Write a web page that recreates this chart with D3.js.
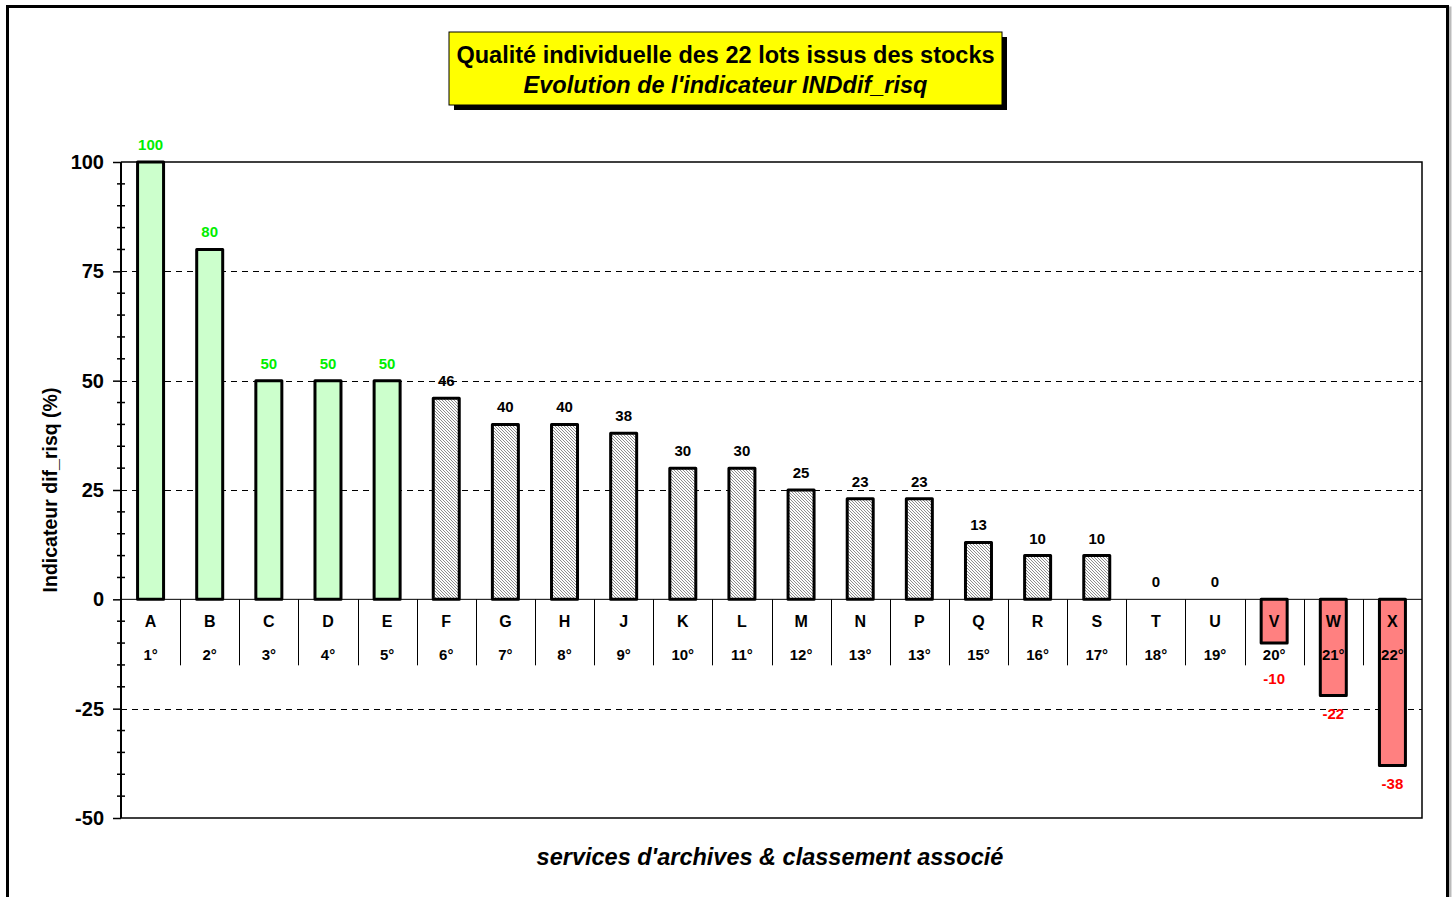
<!DOCTYPE html>
<html>
<head>
<meta charset="utf-8">
<script src="https://cdn.jsdelivr.net/npm/d3@7"></script>
<style>
  html, body { margin: 0; padding: 0; background: #fff; }
  svg { display: block; font-family: Arial, "Liberation Sans", sans-serif; }
</style>
</head>
<body>
<svg id="chart" width="1456" height="897"></svg>
<script>
// Lots, their rank and the INDdif_risq indicator (%)
const lots = ["A","B","C","D","E","F","G","H","J","K","L","M","N","P","Q","R","S","T","U","V","W","X"];
const ranks = ["1°","2°","3°","4°","5°","6°","7°","8°","9°","10°","11°","12°","13°","13°","15°","16°","17°","18°","19°","20°","21°","22°"];
const values = [100,80,50,50,50,46,40,40,38,30,30,25,23,23,13,10,10,0,0,-10,-22,-38];
// quality group of each lot: good / average / poor
const groups = ["good","good","good","good","good","mid","mid","mid","mid","mid","mid","mid","mid","mid","mid","mid","mid","mid","mid","bad","bad","bad"];
const yTicks = [-50,-25,0,25,50,75,100];
const gridValues = [-25,25,50,75];

const titleLine1 = "Qualité individuelle des 22 lots issus des stocks";
const titleLine2 = "Evolution de l'indicateur INDdif_risq";
const yTitle = "Indicateur dif_risq (%)";
const xTitle = "services d'archives & classement associé";

const svg = d3.select("#chart");
const plot = { left: 121, right: 1422, top: 162, bottom: 818 };

// Styles per quality group
const fills = { good: "#ccffcc", mid: "url(#hatch)", bad: "#ff8080" };
const labelColors = { good: "#00ee00", mid: "#000", bad: "#ff0000" };
const num = d => String(d);   // plain hyphen for negatives

// fine diagonal stipple for the middle group
const defs = svg.append("defs");
const pat = defs.append("pattern")
  .attr("id", "hatch").attr("patternUnits", "userSpaceOnUse")
  .attr("width", 3).attr("height", 3);
pat.append("rect").attr("width", 3).attr("height", 3).attr("fill", "#fcfcfc");
pat.append("path").attr("d", "M-1,2 L1,4 M0,0 L3,3 M2,-1 L4,1")
  .attr("stroke", "#777").attr("stroke-width", 0.85);

// outer frame with light shadow
svg.append("rect").attr("x", 9).attr("y", 8).attr("width", 1441).attr("height", 900)
  .attr("fill", "none").attr("stroke", "#bbb").attr("stroke-width", 3);
svg.append("rect").attr("x", 7.5).attr("y", 6.5).attr("width", 1440).attr("height", 900)
  .attr("fill", "#fff").attr("stroke", "#000").attr("stroke-width", 3);

const x = d3.scaleBand().domain(d3.range(lots.length))
  .range([plot.left, plot.right]).paddingInner(0).paddingOuter(0);
const y = d3.scaleLinear().domain([-50, 100]).range([plot.bottom, plot.top]);
const barW = 26;
const cx = i => x(i) + x.bandwidth() / 2;

// dashed gridlines
svg.append("g").selectAll("line").data(gridValues).join("line")
  .attr("x1", plot.left).attr("x2", plot.right)
  .attr("y1", d => Math.round(y(d)) + 0.5).attr("y2", d => Math.round(y(d)) + 0.5)
  .attr("stroke", "#000").attr("stroke-width", 1).attr("stroke-dasharray", "6,5");

// plot frame (top, right, bottom)
svg.append("path")
  .attr("d", `M${plot.left},${y(100)} H${plot.right} V${y(-50)} H${plot.left}`)
  .attr("fill", "none").attr("stroke", "#000").attr("stroke-width", 1.5);

// zero line
svg.append("line").attr("x1", plot.left).attr("x2", plot.right)
  .attr("y1", y(0)).attr("y2", y(0)).attr("stroke", "#000").attr("stroke-width", 1);

// category separators under the zero line
const sepBottom = y(0) + 66;
svg.append("g").selectAll("line").data(d3.range(1, lots.length)).join("line")
  .attr("x1", d => Math.round(x(d)) + 0.5).attr("x2", d => Math.round(x(d)) + 0.5)
  .attr("y1", y(0)).attr("y2", sepBottom)
  .attr("stroke", "#000").attr("stroke-width", 1);

// bars (zero values draw nothing)
svg.append("g").selectAll("rect")
  .data(values.map((v, i) => ({ v, i })).filter(d => d.v !== 0))
  .join("rect")
  .attr("x", d => cx(d.i) - barW / 2)
  .attr("y", d => Math.min(y(d.v), y(0)))
  .attr("width", barW)
  .attr("height", d => Math.abs(y(d.v) - y(0)))
  .attr("fill", d => fills[groups[d.i]])
  .attr("stroke", "#000").attr("stroke-width", 3)
  .attr("stroke-linejoin", "round");

// category letters and ranks
svg.append("g").selectAll("text").data(lots).join("text")
  .attr("x", (d, i) => cx(i)).attr("y", y(0) + 28)
  .attr("text-anchor", "middle").attr("font-size", 16).attr("font-weight", "bold")
  .text(d => d);
svg.append("g").selectAll("text").data(ranks).join("text")
  .attr("x", (d, i) => cx(i)).attr("y", y(0) + 61)
  .attr("text-anchor", "middle").attr("font-size", 15).attr("font-weight", "bold")
  .text(d => d);

// value labels
svg.append("g").selectAll("text").data(values).join("text")
  .attr("x", (d, i) => cx(i))
  .attr("y", d => d >= 0 ? y(d) - 12 : Math.max(y(d) + 23, y(0) + 85))
  .attr("text-anchor", "middle").attr("font-size", 15).attr("font-weight", "bold")
  .attr("fill", (d, i) => labelColors[groups[i]])
  .text(num);

// y axis
const yAxis = d3.axisLeft(y).tickValues(yTicks).tickSize(8).tickPadding(9).tickFormat(num);
const ax = svg.append("g").attr("transform", `translate(${plot.left},0)`).call(yAxis);
ax.select(".domain").attr("stroke-width", 2).attr("d", `M0,${y(100)}V${y(-50)}`);
ax.selectAll(".tick line").attr("stroke-width", 1.5);
ax.selectAll(".tick text").attr("font-size", 20).attr("font-weight", "bold")
  .attr("font-family", "Arial, 'Liberation Sans', sans-serif").attr("fill", "#000");
// minor ticks crossing the axis
const minor = d3.range(-50, 101, 5).filter(v => v % 25 !== 0);
ax.append("g").selectAll("line").data(minor).join("line")
  .attr("x1", -4).attr("x2", 4)
  .attr("y1", d => y(d)).attr("y2", d => y(d))
  .attr("stroke", "#000").attr("stroke-width", 1.5);

// axis titles
svg.append("text")
  .attr("transform", `translate(57,${(y(100) + y(-50)) / 2}) rotate(-90)`)
  .attr("text-anchor", "middle").attr("font-size", 19.5).attr("font-weight", "bold")
  .text(yTitle);
svg.append("text")
  .attr("x", 770).attr("y", 865)
  .attr("text-anchor", "middle").attr("font-size", 23.5).attr("font-weight", "bold")
  .attr("font-style", "italic")
  .text(xTitle);

// title box with drop shadow
const tb = { x: 449, y: 32, w: 553, h: 73 };
svg.append("rect").attr("x", tb.x + 5).attr("y", tb.y + 5).attr("width", tb.w).attr("height", tb.h)
  .attr("fill", "#000");
svg.append("rect").attr("x", tb.x).attr("y", tb.y).attr("width", tb.w).attr("height", tb.h)
  .attr("fill", "#ffff00").attr("stroke", "#000").attr("stroke-width", 1);
svg.append("text").attr("x", tb.x + tb.w / 2).attr("y", tb.y + 31)
  .attr("text-anchor", "middle").attr("font-size", 23.5).attr("font-weight", "bold")
  .text(titleLine1);
svg.append("text").attr("x", tb.x + tb.w / 2).attr("y", tb.y + 61)
  .attr("text-anchor", "middle").attr("font-size", 23.5).attr("font-weight", "bold")
  .attr("font-style", "italic")
  .text(titleLine2);
</script>
</body>
</html>
